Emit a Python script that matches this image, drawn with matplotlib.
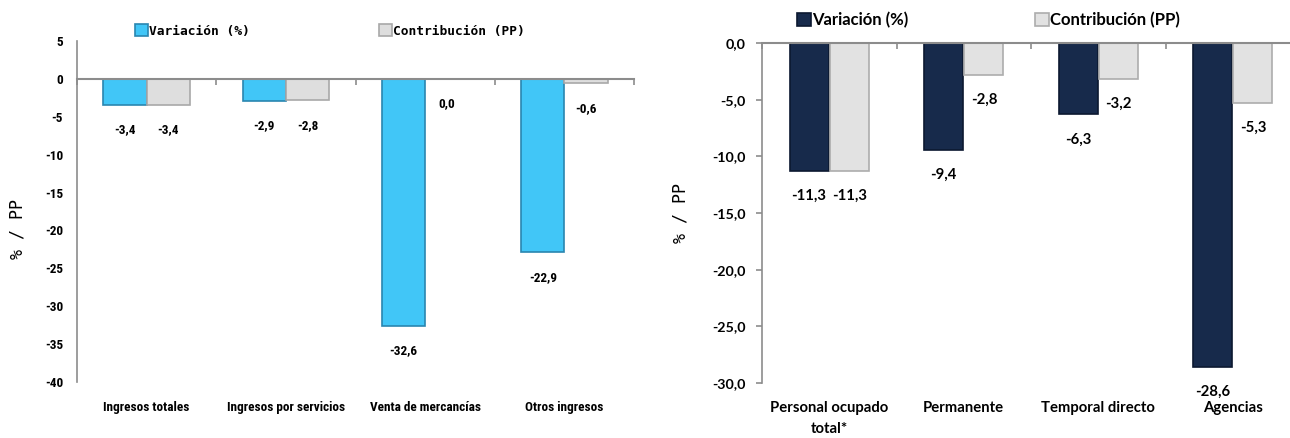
import numpy as np
import matplotlib
matplotlib.use("Agg")
import matplotlib.pyplot as plt
from matplotlib import font_manager

# Left chart: ingresos
ing_categories = ['Ingresos totales', 'Ingresos por servicios', 'Venta de mercancías', 'Otros ingresos']
ing_variacion = [-3.4, -2.9, -32.6, -22.9]
ing_contribucion = [-3.4, -2.8, 0.0, -0.6]
ing_yticks = [5, 0, -5, -10, -15, -20, -25, -30, -35, -40]

# Right chart: personal ocupado
per_categories = ['Personal ocupado\ntotal*', 'Permanente', 'Temporal directo', 'Agencias']
per_variacion = [-11.3, -9.4, -6.3, -28.6]
per_contribucion = [-11.3, -2.8, -3.2, -5.3]
per_yticks = [0, -5, -10, -15, -20, -25, -30]

AXIS_GRAY = '#8c8c8c'
LATO = ['Lato', 'DejaVu Sans']

# pick a condensed face if one is installed
names = {f.name for f in font_manager.fontManager.ttflist}
NARROW = None
for cand in ['Roboto Condensed', 'Liberation Sans Narrow', 'Open Sans Condensed']:
    if cand in names:
        NARROW = [cand, 'DejaVu Sans']
        break
if NARROW is None:
    NARROW = LATO
    NSIZE = 8.7
else:
    NSIZE = 9.5


def fmt(v):
    return f"{v:.1f}".replace('.', ',')


def style_axis(ax, labels, ticklabels_y, font, size, tick_len, label_pad, linespacing=1.2):
    ncat = len(labels)
    for s in ['right', 'bottom']:
        ax.spines[s].set_visible(False)
    ax.spines['left'].set_color(AXIS_GRAY)
    ax.spines['left'].set_linewidth(1.2)
    ax.spines['top'].set_position(('data', 0))
    ax.spines['top'].set_color(AXIS_GRAY)
    ax.spines['top'].set_linewidth(1.5)
    ax.set_xlim(-0.5, ncat - 0.5)
    ax.set_xticks(np.arange(ncat + 1) - 0.5, minor=True)
    ax.set_xticks(np.arange(ncat), labels, linespacing=linespacing)
    ax.set_yticklabels(ticklabels_y)
    ax.tick_params(axis='x', which='major', bottom=True, top=False, length=0, pad=label_pad)
    ax.tick_params(axis='x', which='minor', bottom=False, top=True, direction='in',
                   length=4, color=AXIS_GRAY, width=1.2)
    ax.tick_params(axis='y', length=tick_len, color=AXIS_GRAY, width=1.2, pad=3)
    for lab in ax.get_xticklabels() + ax.get_yticklabels():
        lab.set_fontfamily(font)
        lab.set_fontweight('bold')
        lab.set_fontsize(size)
    for lab in ax.get_xticklabels():
        lab.set_linespacing(linespacing)


fig = plt.figure(figsize=(12.9, 4.38), dpi=100)

# ---------- left chart ----------
ax1 = fig.add_axes([77 / 1290, 56 / 438, 557 / 1290, 341 / 438])
x = np.arange(len(ing_categories))
w = 0.31
b1 = ax1.bar(x - 0.155, ing_variacion, w, color='#41c6f7', edgecolor='#2a86b0', linewidth=1.2,
             label='Variación (%)')
b2 = ax1.bar(x + 0.155, ing_contribucion, w, color='#dedede', edgecolor='#a8a8a8', linewidth=1.2,
             label='Contribución (PP)')
ax1.set_ylim(-40, 5)
ax1.set_yticks(ing_yticks)
style_axis(ax1, ing_categories, [str(t) for t in ing_yticks], NARROW, NSIZE, 0, 14)
ax1.tick_params(axis='y', pad=10)
for bars, vals in [(b1, ing_variacion), (b2, ing_contribucion)]:
    for rect, v in zip(bars, vals):
        ax1.annotate(fmt(v), (rect.get_x() + rect.get_width() / 2, v), xytext=(0, -18),
                     textcoords='offset points', ha='center', va='center',
                     fontfamily=NARROW, fontweight='bold', fontsize=NSIZE)
ax1.set_ylabel('% / PP', fontfamily=['DejaVu Sans Mono'], fontsize=12)
ax1.yaxis.set_label_coords(-0.09, 0.45)
ax1.legend(loc='center left', bbox_to_anchor=(135 / 1290, 1 - 31 / 438), bbox_transform=fig.transFigure,
           ncol=2, frameon=False, borderpad=0, borderaxespad=0, handlelength=1.0, handleheight=1.0,
           handletextpad=0.1, columnspacing=10.0,
           prop={'family': 'DejaVu Sans Mono', 'weight': 'bold', 'size': 9.3})

# ---------- right chart ----------
ax2 = fig.add_axes([762 / 1290, 55 / 438, 538 / 1290, 340 / 438])
x = np.arange(len(per_categories))
w = 0.29
c1 = ax2.bar(x - 0.15, per_variacion, w, color='#172a4b', edgecolor='#0c1830', linewidth=1.2,
             label='Variación (%)')
c2 = ax2.bar(x + 0.15, per_contribucion, w, color='#e2e2e2', edgecolor='#adadad', linewidth=1.2,
             label='Contribución (PP)')
ax2.set_ylim(-30, 0)
ax2.set_yticks(per_yticks)
style_axis(ax2, per_categories, [fmt(t) for t in per_yticks], LATO, 10.7, 4, 13, linespacing=1.6)
ax2.tick_params(axis='y', pad=8)
for lab in ax2.get_yticklabels():
    lab.set_fontsize(10.3)
for bars, vals in [(c1, per_variacion), (c2, per_contribucion)]:
    for rect, v in zip(bars, vals):
        ax2.annotate(fmt(v), (rect.get_x() + rect.get_width() / 2, v), xytext=(0, -18),
                     textcoords='offset points', ha='center', va='center',
                     fontfamily=LATO, fontweight='bold', fontsize=10.7)
ax2.set_ylabel('% / PP', fontfamily=['DejaVu Sans Mono'], fontsize=12)
ax2.yaxis.set_label_coords(-0.134, 0.5)
ax2.legend(loc='center left', bbox_to_anchor=(797 / 1290, 1 - 20 / 438), bbox_transform=fig.transFigure,
           ncol=2, frameon=False, borderpad=0, borderaxespad=0, handlelength=0.85, handleheight=0.85,
           handletextpad=0.05, columnspacing=7.6,
           prop={'family': 'Lato', 'weight': 'bold', 'size': 12})

fig.savefig('out.png', dpi=100)
